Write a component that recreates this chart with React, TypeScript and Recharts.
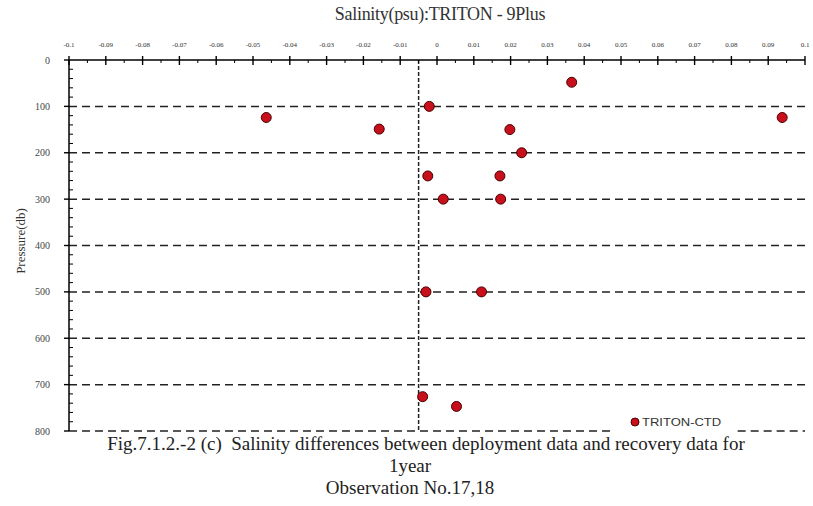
import React from 'react';
import { ScatterChart, Scatter, XAxis, YAxis, ReferenceLine } from 'recharts';

const salinityDiff = [0.0366, -0.0464, -0.0021, -0.0157, 0.0198, 0.023, -0.0025, 0.0171, 0.0017, 0.0173, 0.0938, -0.003, 0.0121, -0.0039, 0.0053];
const pressure = [48, 124, 100, 149, 150, 200, 250, 250, 300, 300, 124, 500, 500, 726, 747];
const seriesName = 'TRITON-CTD';

const xTicks = Array.from({ length: 41 }, (_, i) => Math.round((-0.1 + i * 0.005) * 1000) / 1000);
const yTicks = Array.from({ length: 41 }, (_, i) => i * 20);
const gridPressures = [100, 200, 300, 400, 500, 600, 700];
const bottomPressure = 800;
const legendGap = [0.0478, 0.0817];
const zeroLine = -0.005;

const data = salinityDiff.map((s, i) => ({ s, p: pressure[i] }));

const fmtX = (v: number) => {
  const r = Math.round(v * 1000) / 1000;
  return r === 0 ? '0' : String(r);
};

const XTick = (props: any) => {
  const { x, y, payload } = props;
  const v = payload.value;
  const major = Math.abs(Math.round(v * 100) - v * 100) < 1e-6;
  return (
    <g>
      {major ? (
        <line x1={x} x2={x} y1={y - 4} y2={y + 5} stroke="#000" strokeWidth={1.4} />
      ) : (
        <line x1={x} x2={x} y1={y} y2={y + 3} stroke="#000" strokeWidth={1} />
      )}
      {major && (
        <text x={x} y={y - 13} textAnchor="middle" fontSize={7} fill="#333" fontFamily="'Liberation Serif', serif">
          {fmtX(v)}
        </text>
      )}
    </g>
  );
};

const YTick = (props: any) => {
  const { x, y, payload } = props;
  const v = payload.value;
  const major = v % 100 === 0;
  return (
    <g>
      {major ? (
        <line x1={x - 5} x2={x} y1={y} y2={y} stroke="#000" strokeWidth={1.4} />
      ) : (
        <line x1={x} x2={x + 4} y1={y} y2={y} stroke="#000" strokeWidth={1} />
      )}
      {major && (
        <text x={x - 19} y={y + 3.5} textAnchor="end" fontSize={10} fill="#444" fontFamily="'Liberation Serif', serif">
          {v}
        </text>
      )}
    </g>
  );
};

const Dot = (props: any) => {
  const { cx, cy } = props;
  return <circle cx={cx} cy={cy} r={5} fill="#c8101c" stroke="#4a0000" strokeWidth={1} />;
};

const serif = "'Liberation Serif', 'Times New Roman', serif";

export default function App() {
  return (
    <div style={{ position: 'absolute', left: 0, top: 0, width: 813, height: 506, background: '#fff', overflow: 'hidden' }}>
      <div
        style={{
          position: 'absolute',
          left: 0,
          top: 4,
          width: 880,
          textAlign: 'center',
          fontFamily: serif,
          fontSize: 18,
          letterSpacing: -0.3,
          color: '#333',
          whiteSpace: 'nowrap',
        }}
      >
        Salinity(psu):TRITON - 9Plus
      </div>
      <div
        style={{
          position: 'absolute',
          left: 21,
          top: 241,
          transform: 'translate(-50%, -50%) rotate(-90deg)',
          fontFamily: serif,
          fontSize: 13,
          color: '#333',
          whiteSpace: 'nowrap',
        }}
      >
        Pressure(db)
      </div>
      <div style={{ position: 'absolute', left: 0, top: 0 }}>
        <ScatterChart width={813} height={440} margin={{ top: 40, left: 29, right: 8, bottom: 9 }}>
          <XAxis
            type="number"
            dataKey="s"
            orientation="top"
            domain={[-0.1, 0.1]}
            ticks={xTicks}
            interval={0}
            height={20}
            tickSize={0}
            tickMargin={0}
            tickLine={false}
            tick={<XTick />}
            axisLine={{ stroke: '#000', strokeWidth: 1.5 }}
            allowDataOverflow
          />
          <YAxis
            type="number"
            dataKey="p"
            domain={[0, 800]}
            reversed
            ticks={yTicks}
            interval={0}
            width={40}
            tickSize={0}
            tickMargin={0}
            tickLine={false}
            tick={<YTick />}
            axisLine={{ stroke: '#000', strokeWidth: 1.5 }}
            allowDataOverflow
          />
          {gridPressures.map((g) => (
            <ReferenceLine key={g} y={g} stroke="#222" strokeWidth={1.5} strokeDasharray="8 5" />
          ))}
          <ReferenceLine
            segment={[{ x: -0.1, y: bottomPressure }, { x: legendGap[0], y: bottomPressure }]}
            stroke="#222"
            strokeWidth={1.5}
            strokeDasharray="8 5"
          />
          <ReferenceLine
            segment={[{ x: legendGap[1], y: bottomPressure }, { x: 0.1, y: bottomPressure }]}
            stroke="#222"
            strokeWidth={1.5}
            strokeDasharray="8 5"
          />
          <ReferenceLine x={zeroLine} stroke="#222" strokeWidth={1.5} strokeDasharray="4 2" />
          <Scatter name={seriesName} data={data} shape={<Dot />} isAnimationActive={false} />
        </ScatterChart>
      </div>
      <div
        style={{
          position: 'absolute',
          left: 630,
          top: 414,
          height: 16,
          display: 'flex',
          alignItems: 'center',
          zIndex: 2,
        }}
      >
        <svg width={10} height={10} style={{ marginRight: 2 }}>
          <circle cx={5} cy={5} r={4} fill="#c8101c" stroke="#4a0000" strokeWidth={1} />
        </svg>
        <span
          style={{
            fontFamily: '"Liberation Sans", Arial, sans-serif',
            fontSize: 10,
            color: '#333',
            display: 'inline-block',
            transform: 'scaleX(1.3)',
            transformOrigin: 'left center',
          }}
        >
          {seriesName}
        </span>
      </div>
      <div
        style={{
          position: 'absolute',
          left: 426 - 400,
          top: 433,
          width: 800,
          textAlign: 'center',
          fontFamily: serif,
          fontSize: 19,
          color: '#222',
          lineHeight: '22px',
          whiteSpace: 'pre',
          zIndex: 3,
        }}
      >
        {'Fig.7.1.2.-2 (c)  Salinity differences between deployment data and recovery data for'}
      </div>
      <div
        style={{
          position: 'absolute',
          left: 410 - 200,
          top: 455,
          width: 400,
          textAlign: 'center',
          fontFamily: serif,
          fontSize: 19,
          color: '#222',
          lineHeight: '22px',
          whiteSpace: 'pre',
          zIndex: 3,
        }}
      >
        {'1year\nObservation No.17,18'}
      </div>
    </div>
  );
}
